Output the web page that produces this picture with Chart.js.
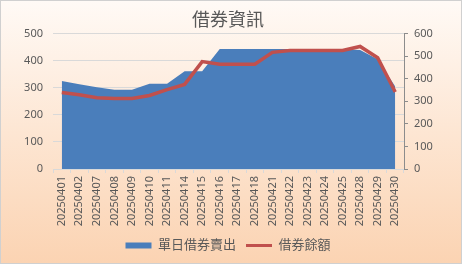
<!DOCTYPE html>
<html>
<head>
<meta charset="utf-8">
<script src="https://cdn.jsdelivr.net/npm/chart.js@4"></script>
<style>
html,body{margin:0;padding:0;background:#fff;}
canvas{display:block;}
</style>
</head>
<body>
<canvas id="c" width="462" height="264"></canvas>
<script>
const categories = ['20250401','20250402','20250407','20250408','20250409','20250410','20250411','20250414','20250415','20250416','20250417','20250418','20250421','20250422','20250423','20250424','20250425','20250428','20250429','20250430'];
const dailySell = [325, 313, 302, 293, 293, 315, 315, 361, 361, 443, 443, 443, 443, 443, 443, 443, 443, 439, 405, 305];
const balance = [339, 329, 316, 312, 312, 326, 352, 375, 476, 464, 464, 464, 517, 525, 525, 525, 525, 543, 493, 341];
const leftTicks = [0, 50, 100, 150, 200, 250, 300, 350, 400, 450, 500];
const rightTicks = [0, 100, 200, 300, 400, 500, 600];
const seriesNames = ['單日借券賣出', '借券餘額'];
const titleText = '借券資訊';

const BLUE = '#4a7ebb';
const RED = '#c0504d';
const TXT = '#595959';
const GRID = '#d9d9d9';

Chart.defaults.font.family = "'Noto Sans', 'Noto Sans CJK TC', sans-serif";
Chart.defaults.color = TXT;

const bgPlugin = {
  id: 'bg',
  beforeDraw(chart) {
    const ctx = chart.ctx;
    const w = chart.width, h = chart.height;
    ctx.save();
    const g = ctx.createLinearGradient(0, 0, 0, h);
    g.addColorStop(0, '#fffaf6');
    g.addColorStop(0.5, '#fde6d3');
    g.addColorStop(1, '#fbd3b2');
    ctx.fillStyle = g;
    ctx.fillRect(0, 0, w, h);
    ctx.strokeStyle = '#d0d0d0';
    ctx.lineWidth = 1;
    ctx.strokeRect(0.5, 0.5, w - 1, h - 1);
    ctx.restore();
  }
};

new Chart(document.getElementById('c'), {
  type: 'line',
  data: {
    labels: categories,
    datasets: [
      {
        label: seriesNames[0],
        data: dailySell,
        yAxisID: 'y',
        backgroundColor: BLUE,
        borderColor: 'rgba(0,0,0,0)',
        borderWidth: 0,
        pointRadius: 0,
        fill: 'origin',
        tension: 0,
        order: 1
      },
      {
        label: seriesNames[1],
        data: balance,
        yAxisID: 'y1',
        borderColor: RED,
        backgroundColor: RED,
        borderWidth: 3.5,
        pointRadius: 0,
        fill: false,
        tension: 0,
        order: 0
      }
    ]
  },
  options: {
    responsive: false,
    animation: false,
    devicePixelRatio: 1,
    layout: { padding: { left: 0, right: 6, top: 0, bottom: 2 } },
    plugins: {
      tooltip: { enabled: false },
      title: {
        display: true,
        text: titleText,
        color: TXT,
        font: { size: 18, weight: 'normal' },
        padding: { top: 10, bottom: 2 }
      },
      legend: {
        position: 'bottom',
        labels: {
          color: TXT,
          font: { size: 13 },
          usePointStyle: true,
          pointStyleWidth: 26,
          boxHeight: 6,
          padding: 10,
          generateLabels(chart) {
            return [
              { text: seriesNames[0], fillStyle: BLUE, strokeStyle: BLUE, lineWidth: 0, pointStyle: 'rect', datasetIndex: 0, hidden: false, fontColor: TXT },
              { text: seriesNames[1], fillStyle: RED, strokeStyle: RED, lineWidth: 3, pointStyle: 'line', datasetIndex: 1, hidden: false, fontColor: TXT }
            ];
          }
        }
      }
    },
    scales: {
      x: {
        offset: true,
        grid: { display: true, drawOnChartArea: false, drawTicks: true, tickLength: 4, color: GRID, offset: true },
        border: { display: true, color: GRID },
        ticks: { minRotation: 90, maxRotation: 90, autoSkip: false, padding: 3, font: { size: 11 }, color: TXT },
        afterFit(s) { s.height = 60; }
      },
      y: {
        position: 'left',
        min: 0, max: 500,
        afterBuildTicks(s) { s.ticks = leftTicks.map(v => ({ value: v })); },
        grid: { color: GRID, drawTicks: false },
        border: { display: false },
        ticks: { padding: 10, font: { size: 11 }, color: TXT },
        afterFit(s) { s.width = 53; }
      },
      y1: {
        position: 'right',
        min: 0, max: 600,
        afterBuildTicks(s) { s.ticks = rightTicks.map(v => ({ value: v })); },
        grid: { drawOnChartArea: false, drawTicks: true, tickLength: 4, color: '#8c8c8c' },
        border: { display: true, color: '#8c8c8c', width: 1 },
        ticks: { padding: 6, font: { size: 11 }, color: TXT },
        afterFit(s) { s.width = 52; }
      }
    }
  },
  plugins: [bgPlugin]
});
</script>
</body>
</html>
